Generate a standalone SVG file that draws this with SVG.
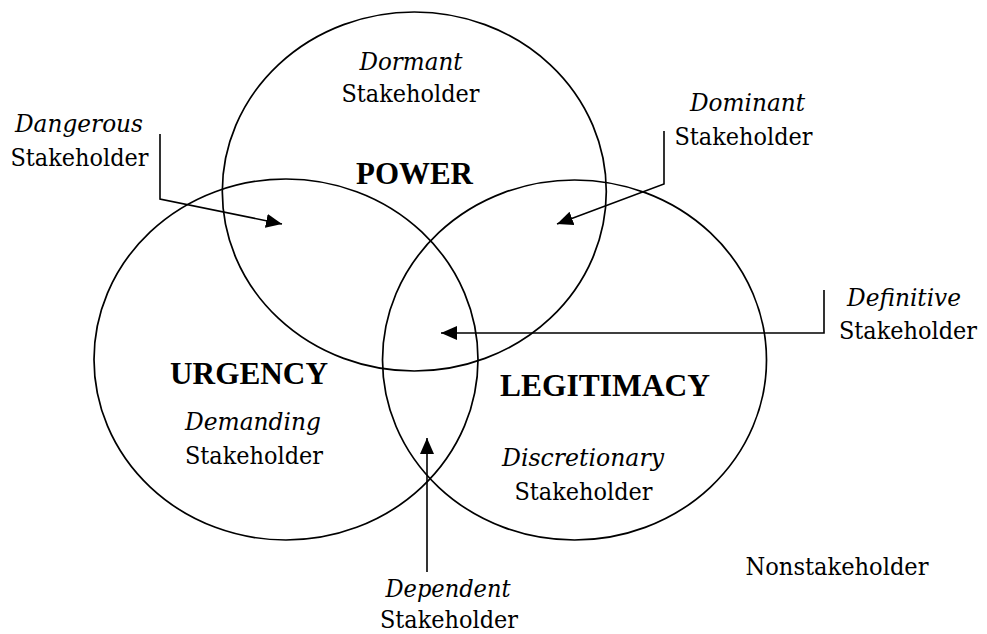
<svg xmlns="http://www.w3.org/2000/svg" width="987" height="634" viewBox="0 0 987 634">
<style>
  .c { fill: none; stroke: #000; stroke-width: 1.7; }
  .ln { fill: none; stroke: #000; stroke-width: 1.6; }
  text { fill: #000; text-anchor: middle; }
  .r { font-family: "DejaVu Serif", "Liberation Serif", serif; font-size: 25px; font-weight: normal; font-style: normal; }
  .i { font-family: "DejaVu Serif", "Liberation Serif", serif; font-size: 25px; font-weight: normal; font-style: italic; }
  .b { font-family: "Liberation Serif", "Times New Roman", serif; font-size: 31px; font-weight: bold; }
</style>
<defs>
  <marker id="ah" markerUnits="userSpaceOnUse" markerWidth="18" markerHeight="16" refX="16" refY="7" orient="auto">
    <path d="M0,0 L16,7 L0,14 Z" fill="#000"/>
  </marker>
</defs>
<rect width="987" height="634" fill="#fff"/>
<g id="power">
  <ellipse class="c" cx="414.3" cy="191.5" rx="192" ry="179.5"/>
  <text class="i" x="411" y="70" textLength="103" lengthAdjust="spacingAndGlyphs">Dormant</text>
  <text class="r" x="410.5" y="102" textLength="138" lengthAdjust="spacingAndGlyphs">Stakeholder</text>
  <text class="b" x="414.5" y="184" textLength="117" lengthAdjust="spacingAndGlyphs">POWER</text>
</g>
<g id="urgency">
  <ellipse class="c" cx="286" cy="359.5" rx="192" ry="180.5"/>
  <text class="b" x="249" y="384" textLength="158" lengthAdjust="spacingAndGlyphs">URGENCY</text>
  <text class="i" x="253" y="430" textLength="136" lengthAdjust="spacingAndGlyphs">Demanding</text>
  <text class="r" x="254" y="464" textLength="138" lengthAdjust="spacingAndGlyphs">Stakeholder</text>
</g>
<g id="legitimacy">
  <ellipse class="c" cx="574.5" cy="360" rx="192" ry="180"/>
  <text class="b" x="605" y="396" textLength="210" lengthAdjust="spacingAndGlyphs">LEGITIMACY</text>
  <text class="i" x="583" y="466" textLength="162" lengthAdjust="spacingAndGlyphs">Discretionary</text>
  <text class="r" x="583.5" y="500" textLength="138" lengthAdjust="spacingAndGlyphs">Stakeholder</text>
</g>
<g id="dangerous">
  <text class="i" x="79" y="132" textLength="128" lengthAdjust="spacingAndGlyphs">Dangerous</text>
  <text class="r" x="79.5" y="166" textLength="138" lengthAdjust="spacingAndGlyphs">Stakeholder</text>
</g>
<g id="dominant">
  <text class="i" x="747.5" y="111" textLength="115" lengthAdjust="spacingAndGlyphs">Dominant</text>
  <text class="r" x="743.5" y="145" textLength="138" lengthAdjust="spacingAndGlyphs">Stakeholder</text>
</g>
<g id="definitive">
  <text class="i" x="904" y="306" textLength="114" lengthAdjust="spacingAndGlyphs">Definitive</text>
  <text class="r" x="977" y="339" text-anchor="end" style="text-anchor:end" textLength="138" lengthAdjust="spacingAndGlyphs">Stakeholder</text>
</g>
<g id="dependent">
  <text class="i" x="448" y="597" textLength="125" lengthAdjust="spacingAndGlyphs">Dependent</text>
  <text class="r" x="449" y="628" textLength="138" lengthAdjust="spacingAndGlyphs">Stakeholder</text>
</g>
<g id="nonstakeholder">
  <text class="r" x="837" y="575" textLength="183" lengthAdjust="spacingAndGlyphs">Nonstakeholder</text>
</g>
<g id="connectors">
  <polyline class="ln" points="160,134 160,199 282,224" marker-end="url(#ah)"/>
  <polyline class="ln" points="664,131 664,184 557,224" marker-end="url(#ah)"/>
  <polyline class="ln" points="824,290 824,333 441,333" marker-end="url(#ah)"/>
  <polyline class="ln" points="427,572 427,438" marker-end="url(#ah)"/>
</g>
</svg>
